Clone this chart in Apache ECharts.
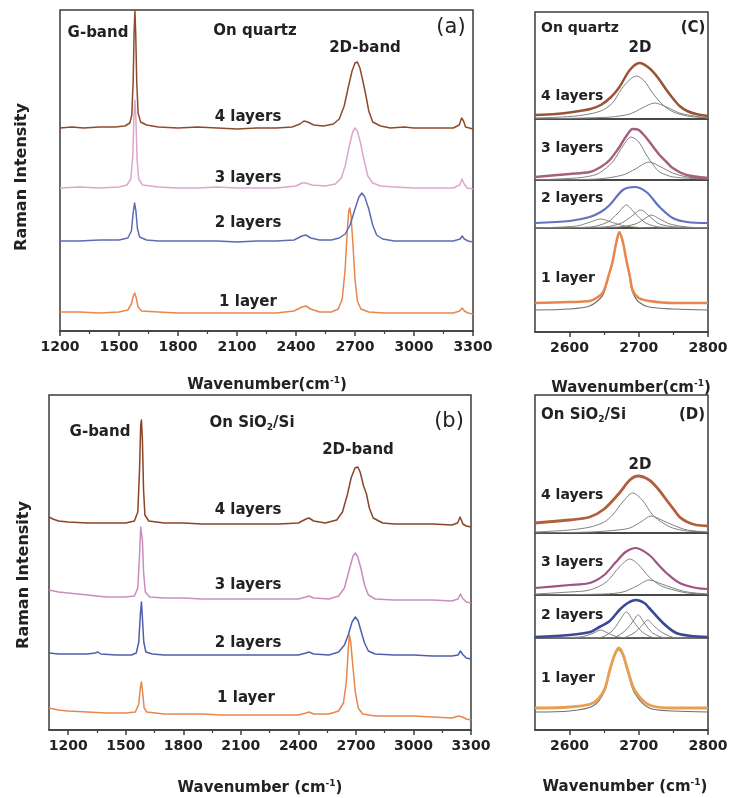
<!DOCTYPE html>
<html>
<head>
<meta charset="utf-8">
<script src="https://cdn.jsdelivr.net/npm/echarts@6/dist/echarts.min.js"></script>
<style>
  html, body { margin: 0; padding: 0; background: #fff; }
  #main { width: 732px; height: 798px; }
</style>
</head>
<body>
<div id="main"></div>
<script>
// Raman spectra, [wavenumber, intensity (a.u.)]
// (a) on quartz
var quartzLayer4 = [[1200,203],[1260,204],[1320,203],[1400,204],[1480,204],[1530,205],[1555,208],[1565,216],[1572,250],[1577,300],[1581,320],[1585,298],[1590,250],[1597,218],[1610,209],[1640,206],[1700,204],[1800,203],[1900,204],[2000,203],[2100,202],[2200,203],[2300,203],[2380,204],[2420,207],[2440,210],[2460,209],[2490,206],[2540,205],[2590,207],[2620,212],[2645,225],[2665,243],[2685,260],[2700,268],[2712,269],[2725,263],[2740,250],[2755,236],[2770,220],[2790,209],[2830,205],[2880,203],[2950,204],[3000,203],[3100,203],[3200,203],[3230,206],[3242,213],[3252,210],[3262,204],[3300,202]]
var quartzLayer3 = [[1200,143],[1300,144],[1400,143],[1500,144],[1540,146],[1560,152],[1570,175],[1576,215],[1581,231],[1586,212],[1592,172],[1600,152],[1620,146],[1700,144],[1800,143],[1900,143],[2000,144],[2100,143],[2200,143],[2300,143],[2400,145],[2430,148],[2450,148],[2480,146],[2550,145],[2600,147],[2630,153],[2650,165],[2670,184],[2688,199],[2700,203],[2712,200],[2728,188],[2745,172],[2765,155],[2790,148],[2830,145],[2900,144],[3000,143],[3100,143],[3200,143],[3232,146],[3244,152],[3255,147],[3270,143],[3300,142]]
var quartzLayer2 = [[1200,90],[1300,90],[1400,91],[1500,91],[1545,93],[1563,100],[1572,118],[1579,128],[1586,120],[1594,102],[1605,94],[1640,91],[1700,90],[1800,90],[1900,90],[2000,90],[2100,89],[2200,90],[2300,90],[2390,91],[2430,95],[2450,96],[2475,93],[2520,91],[2580,91],[2620,93],[2650,97],[2675,106],[2700,122],[2720,134],[2735,138],[2750,134],[2770,122],[2790,106],[2810,96],[2840,92],[2900,90],[3000,90],[3100,90],[3200,90],[3235,92],[3245,95],[3256,92],[3275,90],[3300,89]]
var quartzLayer1 = [[1200,19],[1300,19],[1400,18],[1500,19],[1545,21],[1563,27],[1573,35],[1580,38],[1588,33],[1597,24],[1615,20],[1700,19],[1800,18],[1900,18],[2000,18],[2100,18],[2200,18],[2300,18],[2390,20],[2430,24],[2450,25],[2475,22],[2520,19],[2580,19],[2615,22],[2635,32],[2650,62],[2660,98],[2668,120],[2673,123],[2680,115],[2690,85],[2700,52],[2712,30],[2730,22],[2770,19],[2850,18],[3000,18],[3100,18],[3200,18],[3232,20],[3245,23],[3256,20],[3275,18],[3300,17]]

// (b) on SiO2/Si
var siLayer4 = [[1100,213],[1120,211],[1150,209],[1200,208],[1300,207],[1400,207],[1500,207],[1545,209],[1563,218],[1572,260],[1578,305],[1582,310],[1587,290],[1593,240],[1600,215],[1620,209],[1700,207],[1800,207],[1900,206],[2000,206],[2100,206],[2200,206],[2300,206],[2400,207],[2440,211],[2455,212],[2480,209],[2540,207],[2600,210],[2630,218],[2655,235],[2675,252],[2695,262],[2710,263],[2722,258],[2740,244],[2755,236],[2770,222],[2790,212],[2840,207],[2900,206],[3000,206],[3100,206],[3200,205],[3230,207],[3243,213],[3250,213],[3258,206],[3275,204],[3300,203]]
var siLayer3 = [[1100,140],[1150,138],[1200,137],[1300,135],[1400,133],[1500,133],[1545,134],[1563,142],[1572,175],[1578,203],[1582,205],[1587,190],[1593,158],[1602,138],[1625,133],[1700,132],[1800,132],[1900,131],[2000,131],[2100,131],[2200,131],[2300,131],[2400,131],[2440,133],[2455,134],[2480,132],[2560,131],[2610,134],[2640,142],[2665,160],[2685,174],[2697,177],[2710,173],[2728,160],[2745,145],[2765,135],[2800,131],[2900,130],[3000,130],[3100,130],[3200,129],[3232,131],[3245,136],[3255,132],[3275,128],[3300,127]]
var siLayer2 = [[1100,77],[1150,76],[1200,76],[1300,76],[1340,77],[1355,78],[1370,76],[1450,75],[1530,75],[1555,77],[1568,88],[1576,115],[1582,128],[1587,112],[1594,88],[1605,78],[1640,76],[1700,75],[1800,75],[1900,75],[2000,75],[2100,75],[2200,75],[2300,75],[2400,75],[2440,77],[2455,78],[2480,76],[2560,75],[2610,78],[2640,85],[2660,95],[2680,108],[2697,113],[2712,109],[2728,98],[2745,87],[2765,79],[2800,76],[2900,75],[3000,75],[3100,74],[3200,74],[3232,75],[3245,79],[3255,76],[3275,72],[3300,71]]
var siLayer1 = [[1100,22],[1150,20],[1200,19],[1300,18],[1400,17],[1500,17],[1550,18],[1568,26],[1576,42],[1582,48],[1588,38],[1596,22],[1610,18],[1700,16],[1800,16],[1900,16],[2000,15],[2100,15],[2200,15],[2300,15],[2400,15],[2440,17],[2455,18],[2480,16],[2560,16],[2610,19],[2635,27],[2650,48],[2660,80],[2666,95],[2673,88],[2685,62],[2697,38],[2712,22],[2735,16],[2800,14],[2900,14],[3000,14],[3100,13],[3200,12],[3235,14],[3245,16],[3255,13],[3275,11],[3300,10]]

// (C) 2D band on quartz, data and fitted components
var c4Data = [[2550,4],[2580,5],[2605,7],[2630,10],[2645,14],[2660,22],[2672,32],[2687,49],[2701,56],[2715,51],[2728,41],[2740,29],[2750,20],[2759,13],[2770,8],[2783,5],[2800,3]]
var c4Fit1 = [[2550,1],[2590,2],[2620,4],[2645,8],[2662,16],[2675,30],[2688,40],[2697,43],[2708,38],[2720,26],[2735,14],[2750,7],[2770,3],[2800,1]]
var c4Fit2 = [[2550,0],[2620,1],[2660,2],[2687,5],[2705,11],[2723,16],[2740,12],[2759,6],[2780,3],[2800,1]]
var c3Data = [[2550,3],[2600,6],[2629,8],[2645,13],[2658,20],[2672,33],[2682,44],[2691,51],[2700,50],[2711,42],[2722,32],[2730,25],[2740,18],[2749,12],[2769,5],[2800,2]]
var c3Fit1 = [[2550,0],[2610,2],[2630,4],[2643,7],[2662,18],[2677,34],[2689,43],[2700,38],[2711,25],[2722,14],[2730,8],[2750,3],[2800,1]]
var c3Fit2 = [[2550,0],[2640,1],[2677,5],[2695,11],[2715,18],[2732,13],[2749,7],[2770,3],[2800,1]]
var c2Data = [[2550,5],[2600,7],[2629,11],[2645,16],[2658,23],[2677,38],[2694,41],[2711,36],[2730,21],[2749,10],[2770,6],[2800,5]]
var c2Fit1 = [[2550,0],[2610,2],[2630,6],[2645,9],[2660,6],[2680,2],[2720,0],[2800,0]]
var c2Fit2 = [[2550,0],[2630,1],[2655,6],[2670,15],[2682,23],[2694,15],[2710,5],[2730,1],[2800,0]]
var c2Fit3 = [[2550,0],[2650,1],[2675,5],[2690,12],[2703,18],[2715,12],[2730,4],[2755,1],[2800,0]]
var c2Fit4 = [[2550,0],[2670,1],[2695,4],[2708,9],[2718,13],[2730,9],[2745,4],[2770,1],[2800,0]]
var c1Data = [[2550,29],[2600,30],[2629,31],[2645,37],[2650,42],[2657,58],[2662,70],[2667,88],[2672,100],[2677,90],[2682,72],[2687,56],[2691,42],[2700,34],[2715,31],[2750,29],[2800,29]]
var c1Fit = [[2550,22],[2600,23],[2629,26],[2645,34],[2650,40],[2657,57],[2662,69],[2667,87],[2672,98],[2677,89],[2682,71],[2687,54],[2691,40],[2700,30],[2715,25],[2750,23],[2800,22]]

// (D) 2D band on SiO2/Si
var d4Data = [[2550,10],[2600,13],[2629,16],[2650,24],[2672,40],[2687,53],[2699,57],[2715,53],[2728,44],[2740,33],[2750,24],[2759,16],[2770,11],[2783,8],[2800,7]]
var d4Fit1 = [[2550,1],[2600,3],[2630,6],[2650,11],[2662,18],[2678,32],[2691,40],[2705,33],[2720,18],[2735,10],[2749,5],[2770,2],[2800,1]]
var d4Fit2 = [[2550,0],[2630,1],[2670,3],[2687,5],[2703,11],[2718,17],[2733,13],[2749,8],[2770,3],[2800,1]]
var d3Data = [[2550,7],[2600,10],[2629,12],[2650,20],[2667,33],[2681,43],[2696,47],[2715,40],[2730,29],[2740,22],[2759,12],[2783,7],[2800,6]]
var d3Fit1 = [[2550,1],[2600,3],[2629,5],[2653,13],[2672,28],[2687,36],[2700,30],[2715,18],[2730,10],[2740,7],[2770,2],[2800,1]]
var d3Fit2 = [[2550,0],[2650,1],[2677,3],[2697,9],[2715,15],[2733,11],[2749,7],[2770,3],[2800,1]]
var d2Data = [[2550,1],[2600,3],[2630,6],[2643,11],[2658,17],[2672,28],[2684,35],[2696,38],[2708,35],[2715,30],[2735,15],[2754,5],[2775,2],[2800,1]]
var d2Fit1 = [[2550,0],[2615,1],[2635,5],[2645,8],[2655,5],[2670,1],[2700,0],[2800,0]]
var d2Fit2 = [[2550,0],[2640,0],[2660,6],[2672,17],[2682,26],[2692,17],[2705,6],[2725,0],[2800,0]]
var d2Fit3 = [[2550,0],[2660,0],[2678,6],[2690,15],[2699,23],[2708,15],[2720,5],[2740,0],[2800,0]]
var d2Fit4 = [[2550,0],[2675,0],[2693,5],[2704,12],[2713,18],[2722,12],[2735,5],[2755,0],[2800,0]]
var d1Data = [[2550,22],[2600,23],[2634,27],[2650,40],[2658,60],[2665,75],[2671,82],[2677,76],[2684,60],[2694,40],[2715,25],[2750,22],[2800,22]]
var d1Fit = [[2550,18],[2600,19],[2634,24],[2650,38],[2658,58],[2665,74],[2671,80],[2677,74],[2684,58],[2694,37],[2715,22],[2750,19],[2800,18]]

var wideTicks = [1200, 1500, 1800, 2100, 2400, 2700, 3000, 3300]
var wideMinor = [1350, 1650, 1950, 2250, 2550, 2850, 3150]
var zoomTicks = [2600, 2700, 2800]
var zoomMinor = [2650, 2750]

var FONT = '"DejaVu Sans", Arial, sans-serif'
var INK = '#222'
var FRAME = '#3c3c3c'
var GRAY = '#808080'

var chart = echarts.init(document.getElementById('main'))

// grids: (a), (b), then four stacked boxes for (C) and four for (D)
var grids = [
  { left: 60, top: 10, width: 413, height: 321 },
  { left: 49, top: 395, width: 422, height: 335 },
  { left: 535, top: 12, width: 173, height: 107 },
  { left: 535, top: 119, width: 173, height: 61 },
  { left: 535, top: 180, width: 173, height: 48 },
  { left: 535, top: 228, width: 173, height: 104 },
  { left: 535, top: 395, width: 173, height: 138 },
  { left: 535, top: 533, width: 173, height: 62 },
  { left: 535, top: 595, width: 173, height: 43 },
  { left: 535, top: 638, width: 173, height: 92 }
]
grids.forEach(function (g) {
  g.show = true
  g.borderColor = FRAME
  g.borderWidth = 1.5
  g.backgroundColor = 'transparent'
})

var labelStyle = {
  color: INK, fontFamily: FONT, fontWeight: 'bold', fontSize: 14, margin: 9,
  formatter: function (v) { return String(v) }
}

function majorAxis (gi, min, max, ticks) {
  return {
    type: 'value', gridIndex: gi, min: min, max: max, position: 'bottom',
    axisLine: { show: true, lineStyle: { color: FRAME, width: 1.5 } },
    axisTick: { show: true, inside: false, length: 5, customValues: ticks, lineStyle: { color: FRAME, width: 1.5 } },
    axisLabel: Object.assign({ customValues: ticks }, labelStyle),
    splitLine: { show: false }
  }
}
function minorAxis (gi, min, max, ticks) {
  return {
    type: 'value', gridIndex: gi, min: min, max: max, position: 'bottom', offset: 0,
    axisLine: { show: false },
    axisTick: { show: true, inside: false, length: 3, customValues: ticks, lineStyle: { color: FRAME, width: 1.2 } },
    axisLabel: { show: false },
    splitLine: { show: false }
  }
}
function hiddenAxis (gi, min, max) {
  return { type: 'value', gridIndex: gi, min: min, max: max, show: false, splitLine: { show: false } }
}

var xAxes = [
  majorAxis(0, 1200, 3300, wideTicks), minorAxis(0, 1200, 3300, wideMinor),
  majorAxis(1, 1100, 3300, wideTicks), minorAxis(1, 1100, 3300, wideMinor),
  hiddenAxis(2, 2550, 2800), hiddenAxis(3, 2550, 2800), hiddenAxis(4, 2550, 2800),
  majorAxis(5, 2550, 2800, zoomTicks), minorAxis(5, 2550, 2800, zoomMinor),
  hiddenAxis(6, 2550, 2800), hiddenAxis(7, 2550, 2800), hiddenAxis(8, 2550, 2800),
  majorAxis(9, 2550, 2800, zoomTicks), minorAxis(9, 2550, 2800, zoomMinor)
]
// x axis index used by each grid's series
var xFor = [0, 2, 4, 5, 6, 7, 9, 10, 11, 12]

var yAxes = grids.map(function (g, i) {
  return hiddenAxis(i, 0, g.height)
})

function line (gi, data, color, width) {
  var wide = gi < 2
  return {
    type: 'line', xAxisIndex: xFor[gi], yAxisIndex: gi, data: data,
    showSymbol: false, smooth: wide ? false : 0.3,
    clip: true, silent: true,
    lineStyle: { color: color, width: width || 1.5, join: 'round' }
  }
}

var series = [
  line(0, quartzLayer1, '#e8864c'), line(0, quartzLayer2, '#5b6cb4'),
  line(0, quartzLayer3, '#dda7cd'), line(0, quartzLayer4, '#8e4a2c'),
  line(1, siLayer1, '#e8864c'), line(1, siLayer2, '#4e5fae'),
  line(1, siLayer3, '#c98dbd'), line(1, siLayer4, '#8a4428'),

  line(2, c4Fit1, GRAY, 1), line(2, c4Fit2, GRAY, 1), line(2, c4Data, '#9a5434', 2.5),
  line(3, c3Fit1, GRAY, 1), line(3, c3Fit2, GRAY, 1), line(3, c3Data, '#a3607f', 2.5),
  line(4, c2Fit1, '#8a8a6a', 1), line(4, c2Fit2, GRAY, 1), line(4, c2Fit3, GRAY, 1), line(4, c2Fit4, GRAY, 1),
  line(4, c2Data, '#6272c2', 2.2),
  line(5, c1Fit, '#6f6f6f', 1.2), line(5, c1Data, '#e8864c', 2.5),

  line(6, d4Fit1, GRAY, 1), line(6, d4Fit2, GRAY, 1), line(6, d4Data, '#b0603a', 2.8),
  line(7, d3Fit1, GRAY, 1), line(7, d3Fit2, GRAY, 1), line(7, d3Data, '#a05283', 2.2),
  line(8, d2Fit1, GRAY, 1), line(8, d2Fit2, GRAY, 1), line(8, d2Fit3, GRAY, 1), line(8, d2Fit4, GRAY, 1),
  line(8, d2Data, '#3a4896', 2.6),
  line(9, d1Fit, '#6f6f6f', 1.2), line(9, d1Data, '#e8a050', 2.8)
]

// text helpers
function txt (x, y, s, size, align, weight) {
  return {
    type: 'text', x: x, y: y, silent: true,
    style: {
      text: s, fill: INK, font: (weight || 'bold') + ' ' + size + 'px ' + FONT,
      textAlign: align || 'center', textVerticalAlign: 'middle'
    }
  }
}
var richBase = {
  t: { fontFamily: FONT, fontWeight: 'bold', fontSize: 15, fill: INK, lineHeight: 18 },
  sup: { fontFamily: FONT, fontWeight: 'bold', fontSize: 9, fill: INK, lineHeight: 10, verticalAlign: 'top' },
  sub: { fontFamily: FONT, fontWeight: 'bold', fontSize: 9, fill: INK, lineHeight: 10, verticalAlign: 'bottom' }
}
function rich (x, y, s, align) {
  return {
    type: 'text', x: x, y: y, silent: true,
    style: { text: s, rich: richBase, textAlign: align || 'center', textVerticalAlign: 'middle' }
  }
}
function vtxt (x, y, s) {
  var t = txt(x, y, s, 16)
  t.rotation = Math.PI / 2
  return t
}

var graphic = [
  // (a)
  txt(98, 33, 'G-band', 15), txt(255, 31, 'On quartz', 15), txt(365, 48, '2D-band', 15),
  txt(451, 28, '(a)', 21, 'center', 'normal'),
  txt(248, 117, '4 layers', 15), txt(248, 178, '3 layers', 15),
  txt(248, 223, '2 layers', 15), txt(248, 302, '1 layer', 15),
  vtxt(22, 177, 'Raman Intensity'),
  rich(267, 385, '{t|Wavenumber(cm}{sup|-1}{t|)}'),
  // (b)
  txt(100, 432, 'G-band', 15), rich(252, 423, '{t|On SiO}{sub|2}{t|/Si}'), txt(358, 450, '2D-band', 15),
  txt(449, 422, '(b)', 21, 'center', 'normal'),
  txt(248, 510, '4 layers', 15), txt(248, 585, '3 layers', 15),
  txt(248, 643, '2 layers', 15), txt(246, 698, '1 layer', 15),
  vtxt(24, 575, 'Raman Intensity'),
  rich(260, 788, '{t|Wavenumber (cm}{sup|-1}{t|)}'),
  // (C)
  txt(541, 28, 'On quartz', 14, 'left'), txt(693, 28, '(C)', 15), txt(640, 48, '2D', 15),
  txt(541, 96, '4 layers', 14, 'left'), txt(541, 148, '3 layers', 14, 'left'),
  txt(541, 198, '2 layers', 14, 'left'), txt(541, 278, '1 layer', 14, 'left'),
  rich(631, 388, '{t|Wavenumber(cm}{sup|-1}{t|)}'),
  // (D)
  rich(541, 415, '{t|On SiO}{sub|2}{t|/Si}', 'left'), txt(692, 415, '(D)', 15), txt(640, 465, '2D', 15),
  txt(541, 495, '4 layers', 14, 'left'), txt(541, 562, '3 layers', 14, 'left'),
  txt(541, 615, '2 layers', 14, 'left'), txt(541, 678, '1 layer', 14, 'left'),
  rich(625, 787, '{t|Wavenumber (cm}{sup|-1}{t|)}')
]

chart.setOption({
  backgroundColor: '#ffffff',
  animation: false,
  grid: grids,
  xAxis: xAxes,
  yAxis: yAxes,
  series: series,
  graphic: graphic
})
</script>
</body>
</html>
